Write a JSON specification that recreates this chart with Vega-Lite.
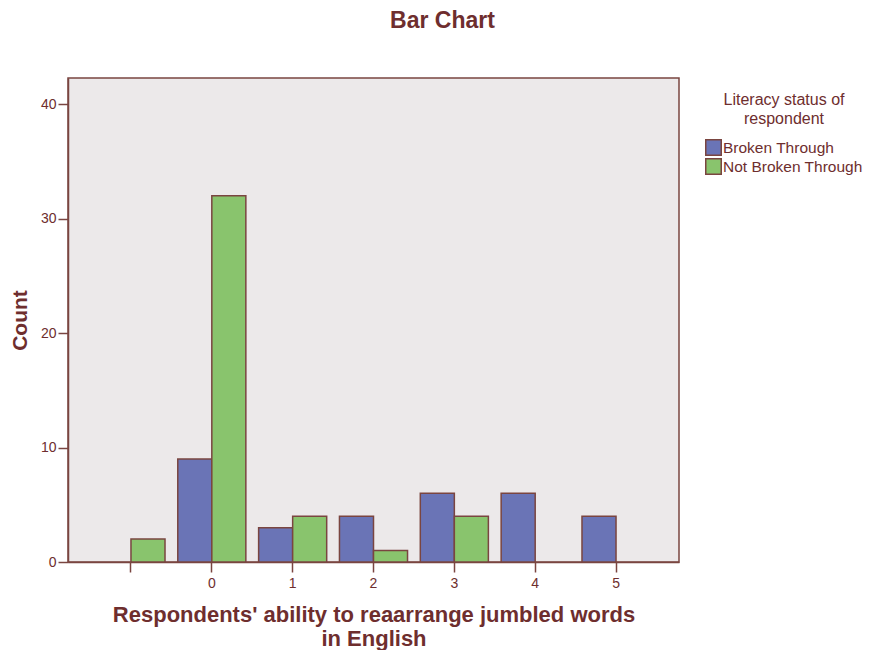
{
  "$schema": "https://vega.github.io/schema/vega-lite/v6.json",
  "width": 611,
  "height": 484,
  "autosize": "none",
  "padding": {"left": 68, "top": 78, "right": 190, "bottom": 88},
  "background": "white",
  "title": {
    "text": "Bar Chart",
    "font": "Liberation Sans",
    "fontSize": 23,
    "fontWeight": "bold",
    "color": "#6E2E2E",
    "anchor": "middle",
    "dx": 69,
    "offset": 45
  },
  "config": {
    "view": {"fill": "#ECE9EA", "stroke": "#7A4540", "strokeWidth": 1.5},
    "font": "Liberation Sans"
  },
  "data": {
    "values": [
      {"score": "", "status": "Not Broken Through", "count": 2},
      {"score": "0", "status": "Broken Through", "count": 9},
      {"score": "0", "status": "Not Broken Through", "count": 32},
      {"score": "1", "status": "Broken Through", "count": 3},
      {"score": "1", "status": "Not Broken Through", "count": 4},
      {"score": "2", "status": "Broken Through", "count": 4},
      {"score": "2", "status": "Not Broken Through", "count": 1},
      {"score": "3", "status": "Broken Through", "count": 6},
      {"score": "3", "status": "Not Broken Through", "count": 4},
      {"score": "4", "status": "Broken Through", "count": 6},
      {"score": "5", "status": "Broken Through", "count": 4}
    ]
  },
  "mark": {"type": "bar", "stroke": "#7A4540", "strokeWidth": 1.5},
  "encoding": {
    "x": {
      "field": "score",
      "type": "nominal",
      "sort": ["", "0", "1", "2", "3", "4", "5"],
      "scale": {"paddingInner": 0.158, "paddingOuter": 0.358},
      "axis": {
        "title": ["Respondents' ability to reaarrange jumbled words", "in English"],
        "titleFontSize": 22,
        "titleFontWeight": "bold",
        "titleColor": "#6E2E2E",
        "titleLineHeight": 24,
        "titlePadding": 14,
        "labelAngle": 0,
        "labelFontSize": 14,
        "labelColor": "#6E2E2E",
        "labelPadding": 4,
        "tickSize": 10,
        "tickWidth": 1.5,
        "tickColor": "#7A4540",
        "domainColor": "#7A4540",
        "domainWidth": 1.5
      }
    },
    "xOffset": {
      "field": "status",
      "type": "nominal",
      "sort": ["Broken Through", "Not Broken Through"],
      "scale": {"paddingInner": 0, "paddingOuter": 0}
    },
    "y": {
      "field": "count",
      "type": "quantitative",
      "scale": {"domain": [0, 42.3], "nice": false},
      "axis": {
        "title": "Count",
        "titleFontSize": 21,
        "titleFontWeight": "bold",
        "titleColor": "#6E2E2E",
        "titlePadding": 10,
        "values": [0, 10, 20, 30, 40],
        "labelFontSize": 14,
        "labelColor": "#6E2E2E",
        "labelPadding": 2,
        "tickSize": 10,
        "tickWidth": 1.5,
        "tickColor": "#7A4540",
        "domainColor": "#7A4540",
        "domainWidth": 1.5,
        "grid": false
      }
    },
    "color": {
      "field": "status",
      "type": "nominal",
      "sort": ["Broken Through", "Not Broken Through"],
      "scale": {"range": ["#6A74B6", "#89C46D"]},
      "legend": {
        "title": ["Literacy status of", "respondent"],
        "orient": "none",
        "legendX": 637,
        "legendY": 14,
        "titleFontSize": 16,
        "titleFontWeight": "normal",
        "titleColor": "#6E2E2E",
        "titleAnchor": "middle",
        "titleAlign": "center",
        "titleLineHeight": 19,
        "titlePadding": 12,
        "labelFontSize": 15.5,
        "labelColor": "#6E2E2E",
        "labelOffset": 1,
        "symbolType": "square",
        "symbolSize": 240,
        "symbolStrokeColor": "#7A4540",
        "symbolStrokeWidth": 1.5,
        "clipHeight": 17,
        "rowPadding": 2
      }
    }
  }
}
